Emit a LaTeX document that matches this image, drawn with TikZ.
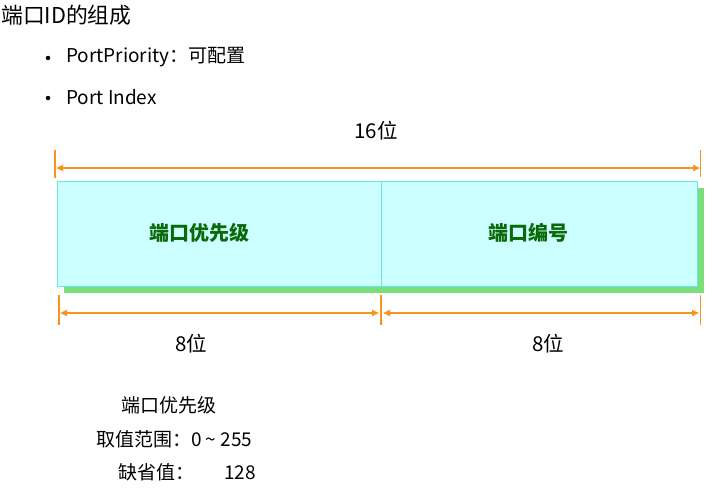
\documentclass[tikz,border=0pt]{standalone}
\usepackage{fontspec}
\setmainfont{Noto Sans CJK SC}
\usetikzlibrary{arrows.meta}
\definecolor{dimorange}{HTML}{F7941D}
\definecolor{cellfill}{HTML}{CCFFFF}
\definecolor{celledge}{HTML}{66E6E6}
\definecolor{shadowgreen}{HTML}{7ADF7A}
\definecolor{labelgreen}{HTML}{0A6A0A}
\tikzset{
  dimline/.style={draw=dimorange, line width=2pt, {Triangle[length=7pt,width=6pt]}-{Triangle[length=7pt,width=6pt]}},
  dimtick/.style={draw=dimorange, line width=1.6pt},
  cell/.style={draw=celledge, fill=cellfill, line width=1pt},
  celltext/.style={font=\fontsize{20}{22}\selectfont\bfseries, text=labelgreen},
  plain/.style={font=\fontsize{19}{22}\selectfont, text=black, inner sep=0pt},
  bulletdot/.style={circle, fill=black, inner sep=0pt, minimum size=4.5pt},
}
\begin{document}
\begin{tikzpicture}[x=1pt,y=-1pt]
\useasboundingbox (0,0) rectangle (717,487);
% texts at top
\node[plain, anchor=west, font=\fontsize{21.8}{24}\selectfont] (title) at (1,15) {端口ID的组成};
\node[bulletdot] (b1) at (48,58) {};
\node[plain, anchor=west] (t1) at (66,57) {PortPriority：可配置};
\node[bulletdot] (b2) at (48,98) {};
\node[plain, anchor=west] (t2) at (66,97) {Port Index};
\node[plain, font=\fontsize{20.5}{22}\selectfont] (sixteen) at (376,131) {16位};
% shadow and cells
\fill[shadowgreen] (64,188) rectangle (704,293);
\draw[cell] (57.5,181) rectangle (381,286);
\draw[cell] (381,181) rectangle (697.5,286);
\node[celltext] (prio) at (199,233) {端口优先级};
\node[celltext] (idx) at (528,233) {端口编号};
% top dimension
\coordinate (tl) at (55,150);
\coordinate (tlb) at (55,178);
\coordinate (tr) at (700.5,150);
\coordinate (trb) at (700.5,177);
\draw[dimtick] (tl) -- (tlb);
\draw[dimtick] (tr) -- (trb);
\coordinate (ta) at (56,168);
\coordinate (tb) at (700,168);
\draw[dimline] (ta) -- (tb);
% bottom dimensions
\coordinate (bl) at (59,295);
\coordinate (blb) at (59,325);
\coordinate (bm) at (381,295);
\coordinate (bmb) at (381,325);
\coordinate (br) at (700.5,295);
\coordinate (brb) at (700.5,325);
\draw[dimtick] (bl) -- (blb);
\draw[dimtick] (bm) -- (bmb);
\draw[dimtick] (br) -- (brb);
\coordinate (la) at (60,313);
\coordinate (lb) at (379,313);
\coordinate (ra) at (383,313);
\coordinate (rb) at (699,313);
\draw[dimline] (la) -- (lb);
\draw[dimline] (ra) -- (rb);
\node[plain, font=\fontsize{20.5}{22}\selectfont] (eightl) at (191,344) {8位};
\node[plain, font=\fontsize{20.5}{22}\selectfont] (eightr) at (548,344) {8位};
% notes
\node[plain] (n1) at (169,405) {端口优先级};
\node[plain, anchor=west] (n2) at (96,439) {取值范围：0 \textasciitilde\ 255};
\node[plain, anchor=west] (n3) at (118,472) {缺省值：\hspace{30pt}128};
\end{tikzpicture}
\end{document}
